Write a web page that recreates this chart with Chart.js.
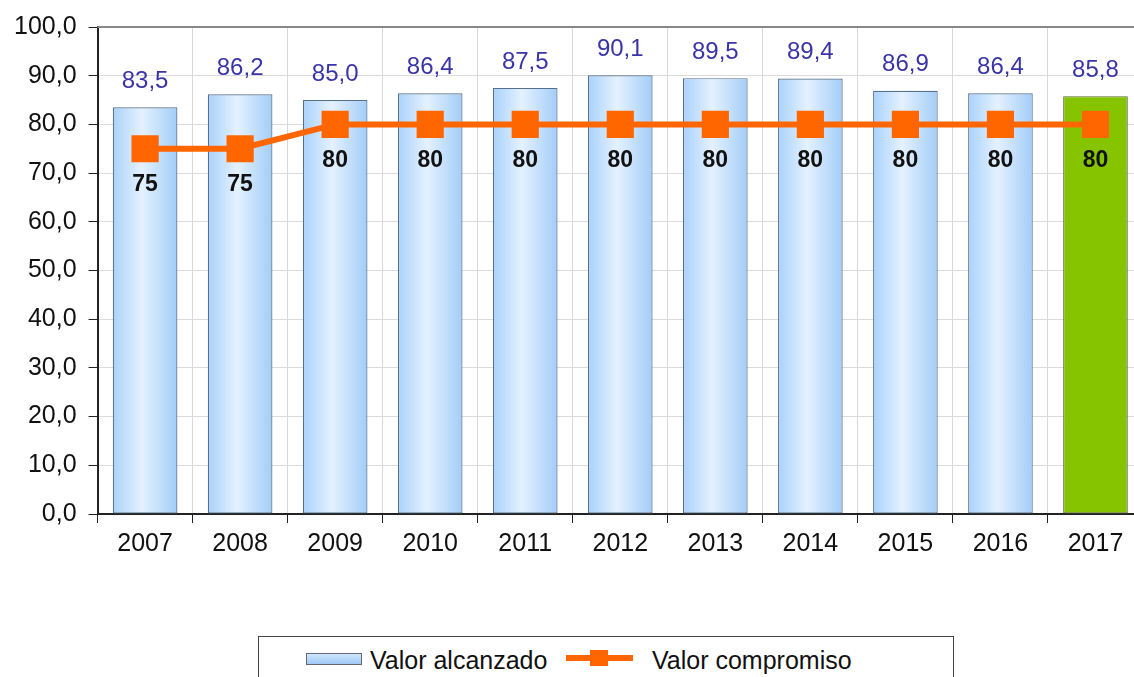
<!DOCTYPE html>
<html>
<head>
<meta charset="utf-8">
<script src="https://cdn.jsdelivr.net/npm/chart.js@4.4.1/dist/chart.umd.min.js"></script>
<style>
  html, body { margin: 0; padding: 0; background: #fff; overflow: hidden; }
  #wrap { position: relative; width: 1164px; height: 677px; }
  #chart { position: absolute; left: 0; top: 0; }
  #legend {
    position: absolute; left: 258px; top: 636px; width: 696px; height: 60px;
    border: 1px solid #444; box-sizing: border-box;
    font-family: 'Liberation Sans', Arial, sans-serif; font-size: 25px; color: #111;
  }
  #legend .item { position: absolute; top: 8px; line-height: 30px; white-space: nowrap; }
  .swatch-bar {
    position: absolute; left: 47px; top: 16px; width: 54px; height: 10px;
    background: linear-gradient(#cfe6ff, #9fcaf5); border: 1px solid #667;
  }
  .swatch-line { position: absolute; left: 307px; top: 18px; width: 67px; height: 6px; background: #ff6600; }
  .swatch-line::after {
    content: ''; position: absolute; left: 24px; top: -5px; width: 18px; height: 16px; background: #ff6600;
  }
</style>
</head>
<body>
<div id="wrap">
  <canvas id="chart" width="1164" height="565"></canvas>
  <div id="legend">
    <div class="swatch-bar"></div>
    <div class="item" style="left:111px">Valor alcanzado</div>
    <div class="swatch-line"></div>
    <div class="item" style="left:393px">Valor compromiso</div>
  </div>
</div>
<script>
// Chart data
const years = ['2007', '2008', '2009', '2010', '2011', '2012', '2013', '2014', '2015', '2016', '2017'];
const valorAlcanzado = [83.5, 86.2, 85.0, 86.4, 87.5, 90.1, 89.5, 89.4, 86.9, 86.4, 85.8];
const valorCompromiso = [75, 75, 80, 80, 80, 80, 80, 80, 80, 80, 80];
const yTicks = [0, 10, 20, 30, 40, 50, 60, 70, 80, 90, 100];

const FONT = "'Liberation Sans', Arial, sans-serif";
const fmt = v => v.toFixed(1).replace('.', ',');

// Per-bar horizontal gradient (light blue, green for the last year)
const barGradient = {
    id: 'barGradient',
    beforeDatasetsDraw(chart) {
        const meta = chart.getDatasetMeta(1);
        const ctx = chart.ctx;
        meta.data.forEach((bar, i) => {
            const left = bar.x - bar.width / 2;
            const right = bar.x + bar.width / 2;
            const g = ctx.createLinearGradient(left, 0, right, 0);
            if (i === years.length - 1) {
                g.addColorStop(0, '#86c400');
                g.addColorStop(1, '#86c400');
            } else {
                g.addColorStop(0, '#a9d2fb');
                g.addColorStop(0.45, '#e4f1ff');
                g.addColorStop(1, '#a2cdf8');
            }
            bar.options.backgroundColor = g;
        });
    }
};

// Value labels: blue above bars, black below the line markers
const valueLabels = {
    id: 'valueLabels',
    afterDatasetsDraw(chart) {
        const ctx = chart.ctx;
        const bars = chart.getDatasetMeta(1).data;
        const pts = chart.getDatasetMeta(0).data;
        ctx.save();
        ctx.textAlign = 'center';
        ctx.textBaseline = 'middle';
        ctx.font = '24px ' + FONT;
        ctx.fillStyle = '#3a34a6';
        bars.forEach((bar, i) => ctx.fillText(fmt(valorAlcanzado[i]), bar.x, bar.y - 26));
        ctx.font = 'bold 23px ' + FONT;
        ctx.fillStyle = '#111';
        pts.forEach((p, i) => ctx.fillText(String(valorCompromiso[i]), p.x, p.y + 36));
        ctx.restore();
    }
};

// Top frame line of the plot area
const frame = {
    id: 'frame',
    beforeDatasetsDraw(chart) {
        const { ctx, chartArea } = chart;
        ctx.save();
        ctx.strokeStyle = '#888';
        ctx.lineWidth = 2;
        ctx.beginPath();
        ctx.moveTo(chartArea.left, chartArea.top);
        ctx.lineTo(chartArea.right, chartArea.top);
        ctx.stroke();
        ctx.restore();
    }
};

new Chart(document.getElementById('chart').getContext('2d'), {
    data: {
        labels: years,
        datasets: [
            {
                type: 'line',
                label: 'Valor compromiso',
                data: valorCompromiso,
                borderColor: '#ff6600',
                backgroundColor: '#ff6600',
                borderWidth: 6,
                pointStyle: 'rect',
                pointRadius: 15,
                pointHoverRadius: 15,
                tension: 0,
                order: 0
            },
            {
                type: 'bar',
                label: 'Valor alcanzado',
                data: valorAlcanzado,
                backgroundColor: '#c8e2fc',
                borderColor: valorAlcanzado.map((v, i) => i === years.length - 1 ? '#5a6b3a' : '#56708c'),
                borderWidth: 1.2,
                borderSkipped: false,
                barPercentage: 0.68,
                categoryPercentage: 1,
                order: 1
            }
        ]
    },
    options: {
        responsive: false,
        animation: false,
        layout: { padding: { top: 24, right: 8, left: 2, bottom: 0 } },
        plugins: {
            legend: { display: false },
            tooltip: { enabled: false }
        },
        scales: {
            x: {
                offset: true,
                grid: {
                    offset: true,
                    color: '#d8d8d8',
                    tickColor: '#222',
                    tickLength: 9,
                    lineWidth: 1
                },
                border: { color: '#222', width: 2 },
                ticks: {
                    color: '#111',
                    font: { family: FONT, size: 25 },
                    padding: 6,
                    maxRotation: 0
                }
            },
            y: {
                min: 0,
                max: 100,
                afterBuildTicks: axis => { axis.ticks = yTicks.map(v => ({ value: v })); },
                grid: {
                    color: '#dcdcdc',
                    tickColor: '#222',
                    tickLength: 9
                },
                border: { color: '#222', width: 2 },
                ticks: {
                    color: '#111',
                    font: { family: FONT, size: 25 },
                    padding: 12,
                    callback: v => fmt(v)
                }
            }
        }
    },
    plugins: [barGradient, frame, valueLabels]
});
</script>
</body>
</html>
